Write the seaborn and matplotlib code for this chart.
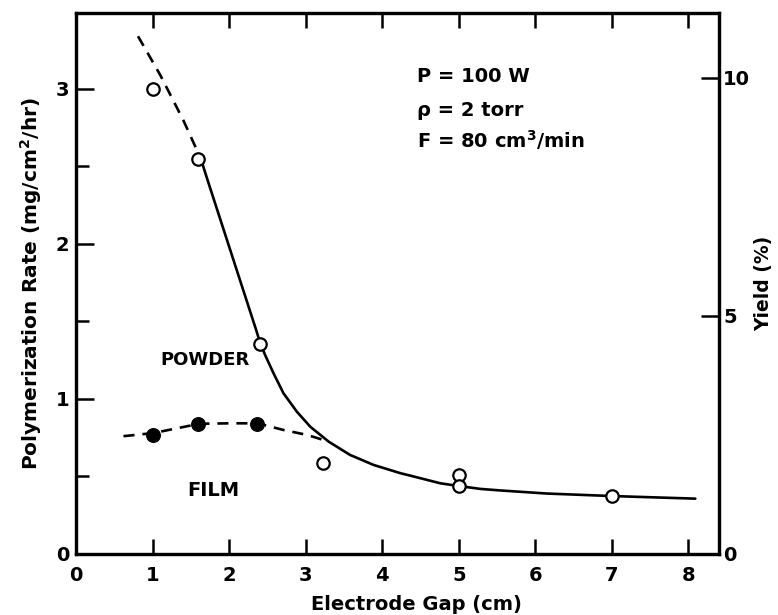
import matplotlib
matplotlib.use("Agg")
import matplotlib.pyplot as plt
import seaborn as sns

# ---- data ----
powder_x = [1.0, 1.6, 2.4, 3.23, 5.0, 5.0, 7.0]
powder_y = [3.00, 2.55, 1.355, 0.585, 0.51, 0.44, 0.375]
film_x = [1.0, 1.6, 2.37]
film_y = [0.77, 0.84, 0.84]

powder_fit_x = [1.63, 1.72, 1.93, 2.14, 2.35, 2.41, 2.47, 2.58, 2.71, 2.885, 3.06, 3.30,
                3.58, 3.89, 4.24, 4.41, 4.76, 4.98, 5.28, 5.54, 6.15, 6.99, 8.09]
powder_fit_y = [2.55, 2.41, 2.09, 1.77, 1.45, 1.355, 1.284, 1.166, 1.037, 0.918, 0.821, 0.725,
                0.639, 0.574, 0.521, 0.50, 0.456, 0.44, 0.42, 0.41, 0.39, 0.374, 0.357]
powder_ext_x = [0.81, 1.10, 1.40, 1.63]
powder_ext_y = [3.34, 3.09, 2.80, 2.55]
film_fit_x = [0.62, 1.01, 1.61, 2.01, 2.37, 2.71, 3.02, 3.30]
film_fit_y = [0.76, 0.78, 0.84, 0.843, 0.843, 0.80, 0.768, 0.725]

x_ticks = [0, 1, 2, 3, 4, 5, 6, 7, 8]
rate_ticks = [0, 1, 2, 3]
rate_minor_ticks = [0.5, 1.5, 2.5]
yield_ticks = [0, 5, 10]
rate_to_yield = 3.256

sns.set_theme(style="ticks")
plt.rcParams["font.family"] = ["DejaVu Sans"]
plt.rcParams["font.weight"] = "bold"
for k in ["text.color", "axes.labelcolor", "xtick.color", "ytick.color", "axes.edgecolor"]:
    plt.rcParams[k] = "black"

fig = plt.figure(figsize=(7.78, 6.15), dpi=100)
ax = fig.add_axes([0.0977, 0.0992, 0.8265, 0.8797])

lw = 1.9
dash = (0, (4.2, 3.0))
sns.lineplot(x=powder_fit_x, y=powder_fit_y, ax=ax, color="black", lw=lw,
             sort=False, estimator=None)
sns.lineplot(x=powder_ext_x, y=powder_ext_y, ax=ax, color="black", lw=lw,
             sort=False, estimator=None, linestyle=dash)
sns.lineplot(x=film_fit_x, y=film_fit_y, ax=ax, color="black", lw=lw,
             sort=False, estimator=None, linestyle=dash)

sns.scatterplot(x=powder_x, y=powder_y, ax=ax, s=80, marker="o",
                facecolor="white", edgecolor="black", linewidth=1.6, zorder=5)
sns.scatterplot(x=film_x, y=film_y, ax=ax, s=95, marker="o",
                color="black", edgecolor="black", linewidth=1.0, zorder=5)

ax.set_xlim(0, 8.4)
ax.set_ylim(0, 3.49)
ax.set_xticks(x_ticks)
ax.set_yticks(rate_ticks)
ax.set_yticks(rate_minor_ticks, minor=True)

for s in ax.spines.values():
    s.set_linewidth(2.3)
    s.set_color("black")

ax.tick_params(axis="both", which="both", direction="in", color="black",
               width=1.8, labelsize=14, labelcolor="black")
ax.tick_params(axis="x", which="major", length=11, top=True, pad=9)
ax.tick_params(axis="y", which="major", length=13, pad=5)
ax.tick_params(axis="y", which="minor", length=9)
ax.tick_params(axis="y", which="both", right=False)

ax.set_xlabel("Electrode Gap (cm)", fontsize=14, fontweight="bold", labelpad=5)
ax.xaxis.set_label_coords(0.53, -0.075)
ax.set_ylabel("Polymerization Rate (mg/cm$^\\mathbf{2}$/hr)", fontsize=14.5,
              fontweight="bold", labelpad=8)

ax2 = ax.twinx()
ax2.set_ylim(0, 3.49 * rate_to_yield)
ax2.set_yticks(yield_ticks)
ax2.tick_params(axis="y", direction="in", length=13, width=1.8, pad=3,
                labelsize=14, color="black", labelcolor="black")
for s in ax2.spines.values():
    s.set_linewidth(2.3)
    s.set_color("black")
ax2.set_ylabel("Yield (%)", fontsize=13.5, fontweight="bold", rotation=90, labelpad=3)

ax.text(4.46, 3.08, "P = 100 W", fontsize=14, ha="left", va="center")
ax.text(4.46, 2.86, "ρ = 2 torr", fontsize=14, ha="left", va="center")
ax.text(4.46, 2.67, "F = 80 cm$^\\mathbf{3}$/min", fontsize=14, ha="left", va="center")
ax.text(1.68, 1.25, "POWDER", fontsize=13, ha="center", va="center")
ax.text(1.80, 0.41, "FILM", fontsize=14, ha="center", va="center")

fig.savefig("out.png", dpi=100)
